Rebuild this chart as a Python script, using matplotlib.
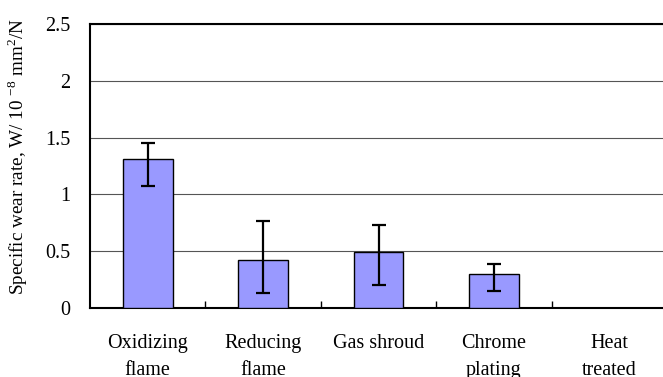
import matplotlib.pyplot as plt
import numpy as np

# datos
categorias = ['Oxidizing\nflame', 'Reducing\nflame', 'Gas shroud', 'Chrome\nplating', 'Heat\ntreated']
valores = [1.31, 0.42, 0.49, 0.30, 0.004]
err_sup = [0.14, 0.35, 0.24, 0.09, 0.0]
err_inf = [0.24, 0.29, 0.29, 0.15, 0.0]

plt.rcParams['font.family'] = ['Liberation Serif', 'DejaVu Serif']
plt.rcParams['mathtext.fontset'] = 'custom'
plt.rcParams['mathtext.rm'] = 'Liberation Serif'

fig = plt.figure(figsize=(6.63, 3.77), dpi=100)
ax = fig.add_axes([90 / 663, 1 - 308 / 377, 577 / 663, 284 / 377])

x = np.arange(len(categorias))
ax.bar(x, valores, width=0.43, color='#9999FF', edgecolor='black', linewidth=1.0, zorder=3)
ax.errorbar(x[:4], valores[:4], yerr=[err_inf[:4], err_sup[:4]], fmt='none',
            ecolor='black', elinewidth=1.6, capsize=5, capthick=1.6, zorder=4)

ax.set_xlim(-0.5, 4.5)
ax.set_ylim(0, 2.5)
ax.set_yticks([0, 0.5, 1, 1.5, 2, 2.5])
ax.set_yticklabels(['0', '0.5', '1', '1.5', '2', '2.5'], fontsize=14.5)
ax.yaxis.grid(True, color='#555555', linewidth=0.8, zorder=0)
ax.tick_params(axis='y', length=0, pad=14)

ax.set_xticks(x)
ax.set_xticklabels(categorias, fontsize=14.5, linespacing=1.55)
ax.tick_params(axis='x', length=0, pad=19)
ax.set_xticks(np.arange(0.5, 4.5, 1), minor=True)
ax.tick_params(axis='x', which='minor', direction='in', length=5, width=1)

for lado in ['left', 'bottom', 'top']:
    ax.spines[lado].set_linewidth(1.5)
ax.spines['right'].set_visible(False)

ax.set_ylabel('Specific wear rate, W/ 10 $^{\\mathregular{-8}}$ mm$^{\\mathregular{2}}$/N',
              fontsize=13.8)
ax.yaxis.set_label_coords(-0.104, 0.535)

plt.savefig('out.png', dpi=100)
